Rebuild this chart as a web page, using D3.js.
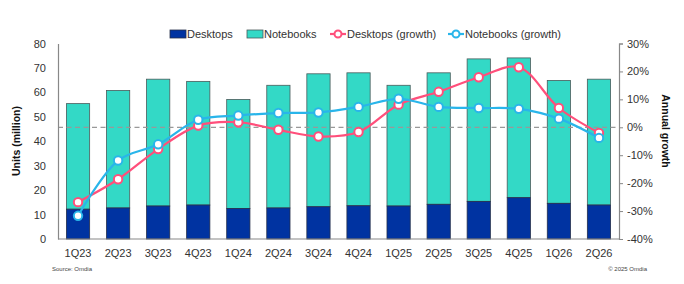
<!DOCTYPE html>
<html><head><meta charset="utf-8">
<script src="https://cdn.jsdelivr.net/npm/d3@7"></script>
<style>body{margin:0;background:#fff}svg{display:block;font-family:"Liberation Sans",Arial,sans-serif}</style>
</head><body><svg id="c" width="684" height="284"></svg>
<script>
const categories = ["1Q23","2Q23","3Q23","4Q23","1Q24","2Q24","3Q24","4Q24","1Q25","2Q25","3Q25","4Q25","1Q26","2Q26"];
const desktops = [12.2,12.7,13.5,13.9,12.5,12.7,13.2,13.6,13.5,14.2,15.4,16.9,14.6,13.9];
const totals = [55.4,60.8,65.4,64.5,57.1,62.9,67.6,68.0,62.9,68.0,73.7,74.1,64.9,65.4];
const notebooks = totals.map((t,i)=>+(t-desktops[i]).toFixed(1));
const desktopsGrowth = [-26.8,-18.6,-7.8,0.6,1.8,-0.9,-3.3,-1.7,8.1,12.7,17.9,21.5,6.9,-2.0];
const notebooksGrowth = [-31.7,-11.9,-6.1,2.7,4.2,5.1,5.3,7.3,10.2,7.3,6.9,6.6,3.1,-3.8];
const leftTicks = [0,10,20,30,40,50,60,70,80];
const rightTicks = [-40,-30,-20,-10,0,10,20,30];

const C = {desk:"#0033a1", note:"#33d9c6", dg:"#ff4f7b", ng:"#29b5ea", text:"#333"};
const svg = d3.select("#c");
const L=58, R=619, T=43.5, B=239;
const x = d3.scaleBand().domain(categories).range([L,R]).paddingInner(0.42).paddingOuter(0.21);
const y = d3.scaleLinear().domain([0,80]).range([B,T]);
const y2 = d3.scaleLinear().domain([-40,30]).range([B,T]);

// bars
const g = svg.append("g");
g.selectAll(".n").data(categories).join("rect")
  .attr("x",d=>x(d)).attr("width",x.bandwidth())
  .attr("y",(d,i)=>y(totals[i])).attr("height",(d,i)=>y(desktops[i])-y(totals[i]))
  .attr("fill",C.note).attr("stroke","#4a5a5a").attr("stroke-width",0.8);
g.selectAll(".d").data(categories).join("rect")
  .attr("x",d=>x(d)).attr("width",x.bandwidth())
  .attr("y",(d,i)=>y(desktops[i])).attr("height",(d,i)=>y(0)-y(desktops[i]))
  .attr("fill",C.desk).attr("stroke","#26304a").attr("stroke-width",0.8);

// zero growth dashed line
svg.append("line").attr("x1",L).attr("x2",R).attr("y1",y2(0)).attr("y2",y2(0))
  .attr("stroke","#999").attr("stroke-width",1.3).attr("stroke-dasharray","5,3.5");

// axes
const la = svg.append("g").attr("transform",`translate(${L},0)`)
  .call(d3.axisLeft(y).tickValues(leftTicks).tickSize(0).tickPadding(12));
la.select(".domain").attr("stroke","#888").attr("stroke-width",1.2);
la.selectAll("text").attr("font-size",11).attr("fill",C.text);
const ra = svg.append("g").attr("transform",`translate(${R},0)`)
  .call(d3.axisRight(y2).tickValues(rightTicks).tickSize(4).tickPadding(4).tickFormat(d=>d+"%"));
ra.select(".domain").attr("stroke","#888").attr("stroke-width",1.2);
ra.selectAll("line").attr("stroke","#888");
ra.selectAll("text").attr("font-size",11).attr("fill",C.text);
const ba = svg.append("g").attr("transform",`translate(0,${B})`)
  .call(d3.axisBottom(x).tickSize(0).tickPadding(10));
ba.select(".domain").attr("stroke","#888").attr("stroke-width",1.2).attr("d",`M${L},0H${R}`);
ba.selectAll("text").attr("font-size",11).attr("fill",C.text);

// growth lines
const cx = d=>x(d)+x.bandwidth()/2;
function series(vals,col){
  const line = d3.line().x((d,i)=>cx(categories[i])).y(d=>y2(d)).curve(d3.curveCatmullRom.alpha(0.5));
  svg.append("path").datum(vals).attr("d",line).attr("fill","none").attr("stroke",col).attr("stroke-width",2.2);
  svg.append("g").selectAll("circle").data(vals).join("circle")
    .attr("cx",(d,i)=>cx(categories[i])).attr("cy",d=>y2(d)).attr("r",4.2)
    .attr("fill","#fff").attr("stroke",col).attr("stroke-width",2);
}
series(desktopsGrowth,C.dg);
series(notebooksGrowth,C.ng);

// axis titles
svg.append("text").attr("transform","translate(20,141) rotate(-90)").attr("text-anchor","middle")
  .attr("font-size",10.5).attr("font-weight","bold").attr("fill","#111").text("Units (million)");
svg.append("text").attr("transform","translate(662,131) rotate(90)").attr("text-anchor","middle")
  .attr("font-size",10.5).attr("font-weight","bold").attr("fill","#111").text("Annual growth");

// legend
const lg = svg.append("g").attr("font-size",11).attr("fill",C.text);
const ly = 34;
[[170,"Desktops",C.desk,"#26304a"],[247,"Notebooks",C.note,"#4a5a5a"]].forEach(([lx,t,f,s])=>{
  lg.append("rect").attr("x",lx).attr("y",ly-4).attr("width",16).attr("height",8).attr("fill",f).attr("stroke",s).attr("stroke-width",0.8);
  lg.append("text").attr("x",lx+17).attr("y",ly+4).attr("fill",C.text).text(t);
});
[[330,"Desktops (growth)",C.dg],[448,"Notebooks (growth)",C.ng]].forEach(([lx,t,col])=>{
  lg.append("line").attr("x1",lx).attr("x2",lx+16).attr("y1",ly).attr("y2",ly).attr("stroke",col).attr("stroke-width",2.2);
  lg.append("circle").attr("cx",lx+8).attr("cy",ly).attr("r",3.5).attr("fill","#fff").attr("stroke",col).attr("stroke-width",2);
  lg.append("text").attr("x",lx+17).attr("y",ly+4).attr("fill",C.text).text(t);
});

// footer
svg.append("text").attr("x",52).attr("y",271).attr("font-size",6).attr("fill","#444").text("Source: Omdia");
svg.append("text").attr("x",647).attr("y",271).attr("text-anchor","end").attr("font-size",6).attr("fill","#444").text("© 2025 Omdia");
</script></body></html>
